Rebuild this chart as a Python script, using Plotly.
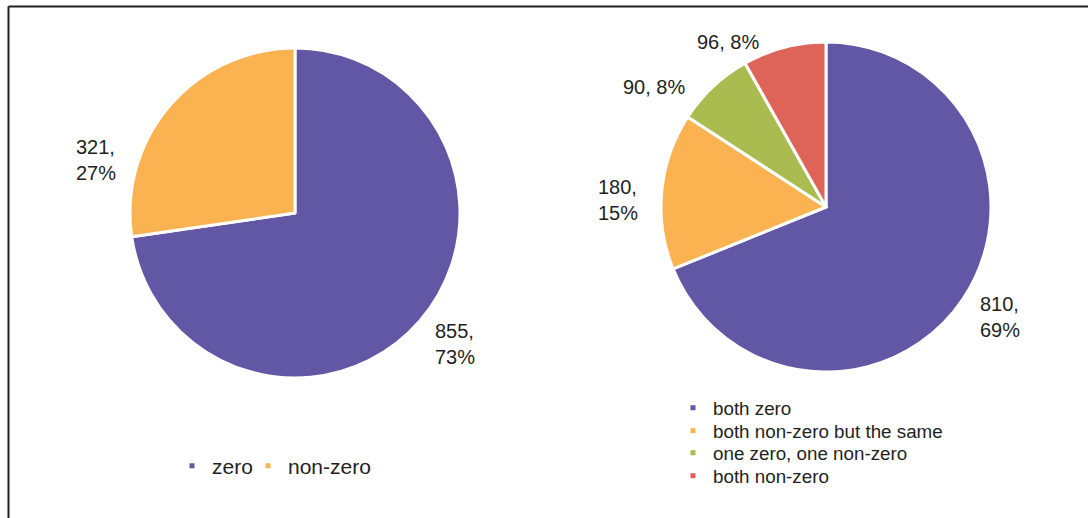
import math
import plotly.graph_objects as go

W, H = 1088, 518

# data
left_labels = ["zero", "non-zero"]
left_values = [855, 321]
right_labels = ["both zero", "both non-zero but the same",
                "one zero, one non-zero", "both non-zero"]
right_values = [810, 180, 90, 96]

left_colors = ["#6157A5", "#FBB250"]
right_colors = ["#6157A5", "#FBB250", "#AABC50", "#DE6459"]

# layout (pixels)
pie_l = dict(cx=295, cy=213, r=165)
pie_r = dict(cx=826, cy=207, r=165)
# per-label nudge of the label angle (deg) and distance (x radius), Excel "best fit"-like
left_nudge = [(-1.5, 1.255), (-26, 1.25)]
right_nudge = [(-1.7, 1.25), (-3.5, 1.26), (-12, 1.27), (-16, 1.16)]
# legend entry text positions (x of text start, y of text middle)
left_leg_pos = [(212, 466), (288, 466)]
right_leg_pos = [(713, 408), (713, 431), (713, 453), (713, 476)]
FONT = "Liberation Sans, Arial, sans-serif"
TXT = "#231F20"


def domain(p):
    return dict(x=[(p["cx"] - p["r"]) / W, (p["cx"] + p["r"]) / W],
                y=[1 - (p["cy"] + p["r"]) / H, 1 - (p["cy"] - p["r"]) / H])


def label_annots(values, p, nudges, two_line):
    total = sum(values)
    out, start = [], 0.0
    for v, (da, k), tl in zip(values, nudges, two_line):
        ang = (start + v / total * 180.0) + da
        start += v / total * 360.0
        a = math.radians(ang)
        x = p["cx"] + k * p["r"] * math.sin(a)
        y = p["cy"] - k * p["r"] * math.cos(a)
        pct = round(v / total * 100)
        sep = ",<br>" if tl else ", "
        out.append(dict(x=x / W, y=1 - y / H, xref="paper", yref="paper",
                        text=f"{v}{sep}{pct}%", showarrow=False, align="left",
                        xanchor="center", yanchor="middle",
                        font=dict(family=FONT, size=20, color=TXT)))
    return out


fig = go.Figure()
fig.add_trace(go.Pie(labels=left_labels, values=left_values, sort=False,
                     direction="clockwise", rotation=0, textinfo="none",
                     hoverinfo="label+value+percent", showlegend=False,
                     marker=dict(colors=left_colors, line=dict(color="white", width=3)),
                     domain=domain(pie_l)))
fig.add_trace(go.Pie(labels=right_labels, values=right_values, sort=False,
                     direction="clockwise", rotation=0, textinfo="none",
                     hoverinfo="label+value+percent", showlegend=False,
                     marker=dict(colors=right_colors, line=dict(color="white", width=3)),
                     domain=domain(pie_r)))

# one legend box per entry so the spacing can follow the reference
legends = {}
entries = [(n, c, pos, 21) for n, c, pos in zip(left_labels, left_colors, left_leg_pos)]
entries += [(n, c, pos, 18.8) for n, c, pos in zip(right_labels, right_colors, right_leg_pos)]
for i, (name, col, (tx, ty), fs) in enumerate(entries):
    key = "legend" if i == 0 else f"legend{i + 1}"
    fig.add_trace(go.Scatter(x=[None], y=[None], mode="markers", name=name,
                             marker=dict(symbol="square", size=5, color=col),
                             legend=key))
    legends[key] = dict(x=(tx - 40) / W, y=1 - ty / H, xanchor="left", yanchor="middle",
                        bgcolor="rgba(0,0,0,0)",
                        font=dict(family=FONT, size=fs, color=TXT))

annots = label_annots(left_values, pie_l, left_nudge, [True, True])
annots += label_annots(right_values, pie_r, right_nudge, [True, True, False, False])

fig.update_layout(
    width=W, height=H, margin=dict(l=0, r=0, t=0, b=0),
    paper_bgcolor="white", plot_bgcolor="white",
    xaxis=dict(visible=False), yaxis=dict(visible=False),
    font=dict(family=FONT, color=TXT),
    annotations=annots,
    shapes=[dict(type="line", xref="paper", yref="paper",
                 x0=8.5 / W, x1=1, y0=1 - 6.5 / H, y1=1 - 6.5 / H,
                 line=dict(color=TXT, width=2)),
            dict(type="line", xref="paper", yref="paper",
                 x0=8.5 / W, x1=8.5 / W, y0=0, y1=1 - 6.5 / H,
                 line=dict(color=TXT, width=2))],
    **legends,
)

fig.write_html("out.html", config={"displayModeBar": False},
               post_script="document.body.style.margin='0';")
